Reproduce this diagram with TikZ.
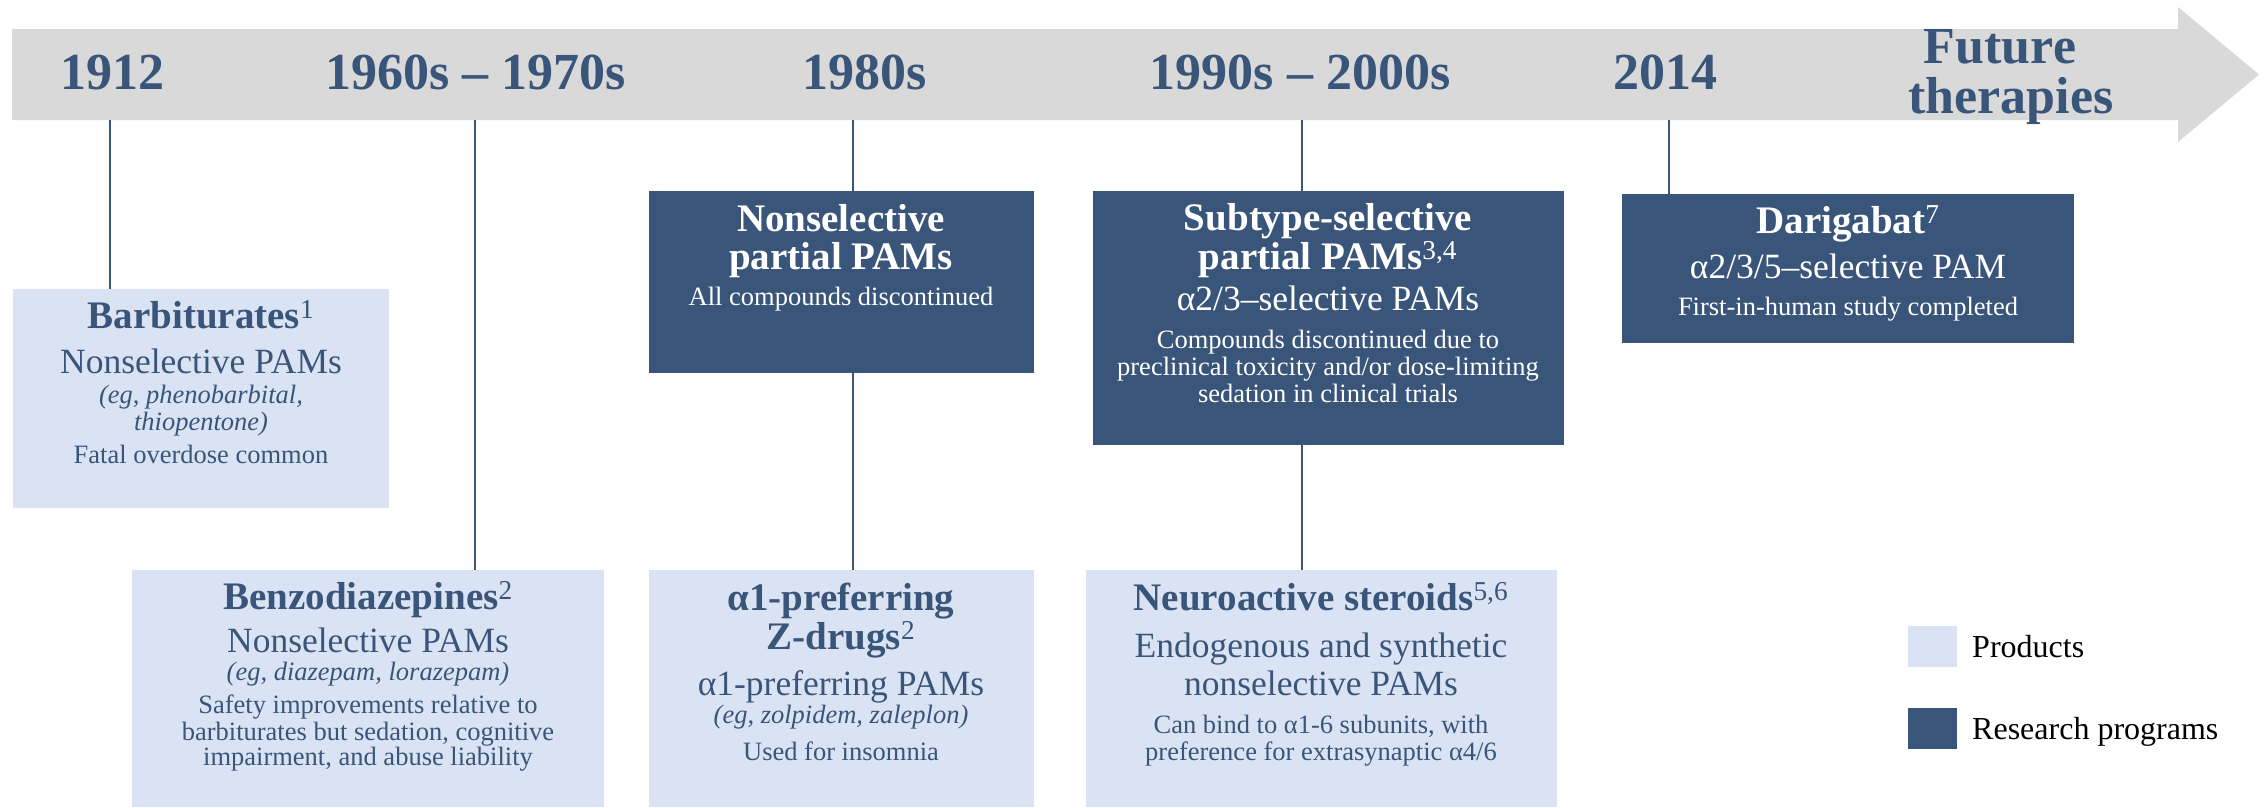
\documentclass[tikz,border=0pt]{standalone}
\usepackage{fontspec}
\setmainfont{Liberation Serif}
\definecolor{navy}{RGB}{58,85,122}
\definecolor{paleblue}{RGB}{218,227,243}
\definecolor{bandgray}{RGB}{217,217,217}

\newcommand{\refmark}[1]{\textsuperscript{\mdseries #1}}

\tikzset{
  txt/.style={anchor=base, inner sep=0pt, outer sep=0pt},
  yearlbl/.style={txt, text=navy, font=\fontsize{52}{52}\selectfont\bfseries},
  hdr/.style={txt, font=\fontsize{39}{39}\selectfont\bfseries},
  subhdr/.style={txt, font=\fontsize{35.5}{36}\selectfont},
  note/.style={txt, font=\fontsize{26.5}{27}\selectfont},
  noteit/.style={txt, font=\fontsize{26.5}{27}\selectfont\itshape},
  onlight/.style={text=navy},
  ondark/.style={text=white},
  boxbase/.style={inner sep=0pt, outer sep=0pt, anchor=north west, draw=none},
  prodbox/.style={boxbase, fill=paleblue},
  resbox/.style={boxbase, fill=navy},
  link/.style={draw=navy, line width=2pt},
  legtext/.style={anchor=base west, inner sep=0pt, text=black, font=\fontsize{32}{32}\selectfont},
}

\begin{document}
\begin{tikzpicture}[x=1pt, y=-1pt]
\useasboundingbox (0,0) rectangle (2265,807);

% timeline band with arrow head
\fill[bandgray] (12,29) -- (2178,29) -- (2178,7) -- (2259,74.5) -- (2178,142)
  -- (2178,120) -- (12,120) -- cycle;

% period labels
\node[yearlbl] (y1) at (112,89) {1912};
\node[yearlbl] (y2) at (476,89) {1960s – 1970s};
\node[yearlbl] (y3) at (865,89) {1980s};
\node[yearlbl] (y4) at (1300,89) {1990s – 2000s};
\node[yearlbl] (y5) at (1665,89) {2014};
\node[yearlbl] (yf1) at (2000,63) {Future};
\node[yearlbl] (yf2) at (2011,113) {therapies};

% connector start points on the band edge
\coordinate (c1) at (110,120);
\coordinate (c2) at (475,120);
\coordinate (c3) at (853,120);
\coordinate (c4) at (1302,120);
\coordinate (c5) at (1669,120);

% boxes
\node[prodbox, minimum width=376, minimum height=219] (barb) at (13,289) {};
\node[prodbox, minimum width=472, minimum height=237] (benz) at (132,570) {};
\node[resbox,  minimum width=385, minimum height=182] (nsp)  at (649,191) {};
\node[prodbox, minimum width=385, minimum height=237] (zd)   at (649,570) {};
\node[resbox,  minimum width=471, minimum height=254] (sub)  at (1093,191) {};
\node[prodbox, minimum width=471, minimum height=237] (neu)  at (1086,570) {};
\node[resbox,  minimum width=452, minimum height=149] (dari) at (1622,194) {};

% connectors
\draw[link] (c1) -- (c1 |- barb.north);
\draw[link] (c2) -- (c2 |- benz.north);
\draw[link] (c3) -- (c3 |- nsp.north);
\draw[link] (c3 |- nsp.south) -- (c3 |- zd.north);
\draw[link] (c4) -- (c4 |- sub.north);
\draw[link] (c4 |- sub.south) -- (c4 |- neu.north);
\draw[link] (c5) -- (c5 |- dari.north);

% Barbiturates
\node[hdr, onlight] (barb1) at (201,328) {Barbiturates\refmark{1}};
\node[subhdr, onlight] (barb2) at (201,373) {Nonselective PAMs};
\node[noteit, onlight] (barb3) at (201,403) {(eg, phenobarbital,};
\node[noteit, onlight] (barb4) at (201,430) {thiopentone)};
\node[note, onlight] (barb5) at (201,463) {Fatal overdose common};

% Benzodiazepines
\node[hdr, onlight] (benz1) at (368,609) {Benzodiazepines\refmark{2}};
\node[subhdr, onlight] (benz2) at (368,652) {Nonselective PAMs};
\node[noteit, onlight] (benz3) at (368,680) {(eg, diazepam, lorazepam)};
\node[note, onlight] (benz4) at (368,713) {Safety improvements relative to};
\node[note, onlight] (benz5) at (368,740) {barbiturates but sedation, cognitive};
\node[note, onlight] (benz6) at (368,765) {impairment, and abuse liability};

% Nonselective partial PAMs
\node[hdr, ondark] (nsp1) at (841,231) {Nonselective};
\node[hdr, ondark] (nsp2) at (841,269) {partial PAMs};
\node[note, ondark] (nsp3) at (841,305) {All compounds discontinued};

% Z-drugs
\node[hdr, onlight] (zd1) at (841,610) {α1-preferring};
\node[hdr, onlight] (zd2) at (841,649) {Z-drugs\refmark{2}};
\node[subhdr, onlight] (zd3) at (841,695) {α1-preferring PAMs};
\node[noteit, onlight] (zd4) at (841,723) {(eg, zolpidem, zaleplon)};
\node[note, onlight] (zd5) at (841,760) {Used for insomnia};

% Subtype-selective partial PAMs
\node[hdr, ondark] (sub1) at (1328,230) {Subtype-selective};
\node[hdr, ondark] (sub2) at (1328,269) {partial PAMs\refmark{3,4}};
\node[subhdr, ondark] (sub3) at (1328,310) {α2/3–selective PAMs};
\node[note, ondark] (sub4) at (1328,348) {Compounds discontinued due to};
\node[note, ondark] (sub5) at (1328,375) {preclinical toxicity and/or dose-limiting};
\node[note, ondark] (sub6) at (1328,402) {sedation in clinical trials};

% Neuroactive steroids
\node[hdr, onlight] (neu1) at (1321,610) {Neuroactive steroids\refmark{5,6}};
\node[subhdr, onlight] (neu2) at (1321,657) {Endogenous and synthetic};
\node[subhdr, onlight] (neu3) at (1321,695) {nonselective PAMs};
\node[note, onlight] (neu4) at (1321,733) {Can bind to α1-6 subunits, with};
\node[note, onlight] (neu5) at (1321,760) {preference for extrasynaptic α4/6};

% Darigabat
\node[hdr, ondark] (dari1) at (1848,233) {Darigabat\refmark{7}};
\node[subhdr, ondark] (dari2) at (1848,278) {α2/3/5–selective PAM};
\node[note, ondark] (dari3) at (1848,315) {First-in-human study completed};

% legend
\node[prodbox, minimum width=49, minimum height=41] (legp) at (1908,626) {};
\node[resbox, minimum width=49, minimum height=41] (legr) at (1908,708) {};
\node[legtext] (legpt) at (1972,657) {Products};
\node[legtext] (legrt) at (1972,739) {Research programs};
\end{tikzpicture}
\end{document}
